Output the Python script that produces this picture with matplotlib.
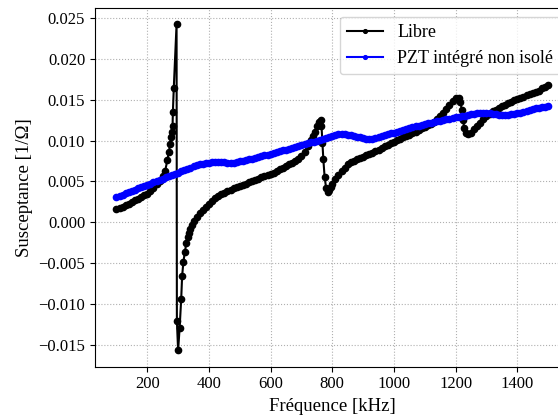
import matplotlib
matplotlib.use("Agg")
import matplotlib.pyplot as plt

plt.rcParams['font.family'] = ['Liberation Serif', 'DejaVu Serif']

# Libre (free PZT) - frequency [kHz] and susceptance [1/Ohm]
libre_f = [100, 110, 120, 130, 140, 150, 160, 170, 180, 190, 200, 210, 220, 230, 240,
           250, 258, 265, 270, 274, 277, 280, 282, 283, 286, 295, 296, 300, 305, 310,
           313, 317, 322, 327, 331, 335, 340, 346, 353, 362, 370, 380, 390, 400, 410,
           420, 430, 440, 450, 460, 470, 480, 490, 500, 510, 520, 530, 540, 550, 560,
           570, 580, 590, 600, 610, 620, 630, 640, 650, 660, 670, 680, 690, 700, 710,
           720, 730, 738, 745, 752, 757, 762, 765, 768, 771, 775, 780, 785, 790, 795,
           800, 810, 820, 830, 840, 850, 860, 870, 880, 890, 900, 910, 920, 930, 940,
           950, 960, 970, 980, 990, 1000, 1010, 1020, 1030, 1040, 1050, 1060, 1070, 1080,
           1090, 1100, 1110, 1120, 1130, 1140, 1150, 1160, 1170, 1180, 1190, 1200, 1210,
           1215, 1220, 1224, 1228, 1233, 1240, 1250, 1260, 1270, 1280, 1290, 1300, 1310,
           1320, 1330, 1340, 1350, 1360, 1370, 1380, 1390, 1400, 1410, 1420, 1430, 1440,
           1450, 1460, 1470, 1480, 1490, 1500]
libre_b = [0.00160, 0.00175, 0.00190, 0.00210, 0.00230, 0.00250, 0.00270, 0.00290, 0.00310,
           0.00330, 0.00350, 0.00385, 0.00420, 0.00465, 0.00510, 0.00570, 0.00630, 0.00760,
           0.00860, 0.00960, 0.01040, 0.01110, 0.01180, 0.01350, 0.01650, 0.02430, -0.01210,
           -0.01570, -0.01290, -0.00940, -0.00660, -0.00490, -0.00360, -0.00250, -0.00180,
           -0.00130, -0.00080, -0.00030, 0.00020, 0.00070, 0.00110, 0.00150, 0.00190,
           0.00230, 0.00265, 0.00295, 0.00320, 0.00345, 0.00365, 0.00385, 0.00400, 0.00415,
           0.00430, 0.00445, 0.00460, 0.00475, 0.00490, 0.00505, 0.00520, 0.00535, 0.00550,
           0.00565, 0.00580, 0.00595, 0.00610, 0.00630, 0.00650, 0.00670, 0.00690, 0.00710,
           0.00730, 0.00755, 0.00780, 0.00810, 0.00860, 0.00940, 0.01010, 0.01060, 0.01110,
           0.01180, 0.01230, 0.01250, 0.01180, 0.00970, 0.00770, 0.00560, 0.00420, 0.00370,
           0.00390, 0.00430, 0.00470, 0.00530, 0.00580, 0.00630, 0.00670, 0.00710, 0.00735,
           0.00755, 0.00775, 0.00790, 0.00805, 0.00820, 0.00835, 0.00850, 0.00870, 0.00890,
           0.00910, 0.00930, 0.00950, 0.00970, 0.00990, 0.01010, 0.01025, 0.01040, 0.01055,
           0.01070, 0.01090, 0.01110, 0.01130, 0.01150, 0.01170, 0.01190, 0.01210, 0.01235,
           0.01260, 0.01300, 0.01340, 0.01390, 0.01440, 0.01490, 0.01520, 0.01520, 0.01480,
           0.01380, 0.01250, 0.01160, 0.01100, 0.01080, 0.01100, 0.01140, 0.01180, 0.01220,
           0.01260, 0.01300, 0.01330, 0.01360, 0.01380, 0.01400, 0.01420, 0.01440, 0.01460,
           0.01480, 0.01500, 0.01510, 0.01525, 0.01540, 0.01555, 0.01570, 0.01585, 0.01600,
           0.01615, 0.01645, 0.01660, 0.01680]

# PZT intégré non isolé
pzt_f = list(range(100, 1501, 10))
pzt_b = [0.00310, 0.00325, 0.00340, 0.00355, 0.00370, 0.00385, 0.00400, 0.00415, 0.00430,
         0.00445, 0.00460, 0.00475, 0.00490, 0.00505, 0.00520, 0.00535, 0.00550, 0.00565,
         0.00580, 0.00595, 0.00610, 0.00625, 0.00640, 0.00655, 0.00670, 0.00685, 0.00700,
         0.00710, 0.00720, 0.00725, 0.00730, 0.00735, 0.00740, 0.00740, 0.00740, 0.00735,
         0.00730, 0.00730, 0.00730, 0.00740, 0.00750, 0.00755, 0.00760, 0.00770, 0.00780,
         0.00790, 0.00800, 0.00810, 0.00820, 0.00830, 0.00840, 0.00850, 0.00860, 0.00870,
         0.00880, 0.00890, 0.00900, 0.00910, 0.00920, 0.00935, 0.00950, 0.00960, 0.00970,
         0.00980, 0.00990, 0.01000, 0.01010, 0.01020, 0.01030, 0.01045, 0.01060, 0.01070,
         0.01080, 0.01082, 0.01080, 0.01075, 0.01070, 0.01060, 0.01050, 0.01040, 0.01030,
         0.01022, 0.01020, 0.01025, 0.01035, 0.01050, 0.01060, 0.01070, 0.01080, 0.01090,
         0.01100, 0.01112, 0.01125, 0.01135, 0.01145, 0.01155, 0.01165, 0.01175, 0.01185,
         0.01195, 0.01205, 0.01212, 0.01220, 0.01230, 0.01238, 0.01245, 0.01252, 0.01260,
         0.01268, 0.01275, 0.01285, 0.01292, 0.01300, 0.01308, 0.01315, 0.01322, 0.01330,
         0.01335, 0.01340, 0.01340, 0.01338, 0.01335, 0.01330, 0.01325, 0.01320, 0.01318,
         0.01318, 0.01320, 0.01322, 0.01328, 0.01335, 0.01345, 0.01355, 0.01365, 0.01375,
         0.01385, 0.01395, 0.01402, 0.01410, 0.01415, 0.01420]

fig = plt.figure(figsize=(5.58, 4.19), dpi=100)
ax = fig.add_axes([0.170, 0.1248, 0.851, 0.8568])

ax.plot(libre_f, libre_b, color='black', marker='o', markersize=4.5, linewidth=1.5,
        label='Libre')
ax.plot(pzt_f, pzt_b, color='blue', marker='o', markersize=4.5, linewidth=1.5,
        label='PZT intégré non isolé')

ax.set_xticks([200, 400, 600, 800, 1000, 1200, 1400])
ax.set_yticks([-0.015, -0.010, -0.005, 0.0, 0.005, 0.010, 0.015, 0.020, 0.025])
ax.set_yticklabels(['−0.015', '−0.010', '−0.005', '0.000', '0.005', '0.010', '0.015',
                    '0.020', '0.025'])
ax.tick_params(labelsize=12)
ax.grid(True, linestyle=':', color='#b0b0b0', linewidth=0.8)
ax.set_xlabel('Fréquence [kHz]', fontsize=13.5)
ax.set_ylabel('Susceptance [1/Ω]', fontsize=13.5)
ax.legend(loc='upper right', fontsize=13, markerscale=0.6)

fig.savefig('out.png', dpi=100)
